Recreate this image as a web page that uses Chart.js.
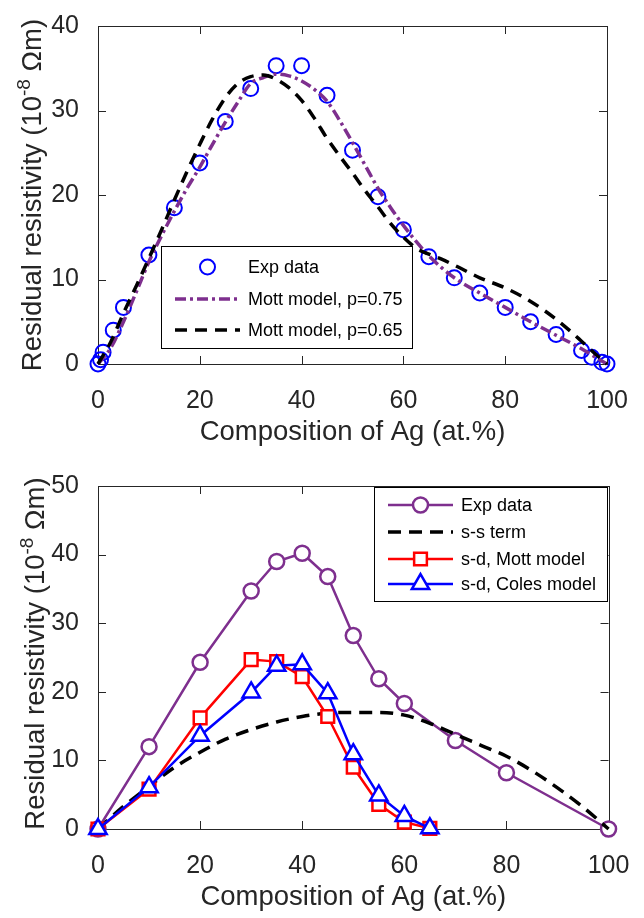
<!DOCTYPE html>
<html>
<head>
<meta charset="utf-8">
<script src="https://cdn.jsdelivr.net/npm/chart.js@4.4.1/dist/chart.umd.min.js"></script>
<style>
  html,body{margin:0;padding:0;background:#fff;}
  #page{position:relative;width:644px;height:918px;overflow:hidden;}
  canvas{position:absolute;left:0;}
</style>
</head>
<body>
<div id="page">
  <canvas id="top" width="644" height="460" style="top:0"></canvas>
  <canvas id="bot" width="644" height="458" style="top:460px"></canvas>
</div>
<script>
// ---- top panel data ----
const topExpX = [0,0.5,1,3,5,10,15,20,25,30,35,40,45,50,55,60,65,70,75,80,85,90,95,97,99,100];
const topExpY = [0,0.5,1.4,4.0,6.7,12.9,18.5,23.8,28.7,32.6,35.3,35.3,31.8,25.3,19.8,15.9,12.7,10.2,8.4,6.7,5.0,3.5,1.6,0.8,0.2,0];
const modelX  = [0,2.5,5,7.5,10,12.5,15,17.5,20,22.5,25,27.5,30,32.5,35,37.5,40,42.5,45,47.5,50,52.5,55,57.5,60,62.5,65,67.5,70,75,80,85,90,95,97.5,100];
const mott075 = [0,1.9,5.0,8.5,12.1,15.2,18.1,20.8,23.3,26.0,28.6,31.0,33.2,33.9,34.3,34.1,33.5,32.5,31.1,28.8,26.2,23.5,20.8,18.5,16.4,14.5,12.8,11.4,10.2,8.4,6.7,5.0,3.4,1.8,0.9,0];
const mott065 = [0,2.6,6.0,9.2,12.5,15.9,19.4,22.8,26.0,29.0,31.5,33.2,34.0,34.2,33.7,32.7,31.2,29.1,26.7,24.6,22.6,20.5,18.6,16.6,15.0,13.7,13.0,12.4,11.7,10.2,9.0,7.4,5.3,2.7,1.3,0];
const topLabels = ['Exp data','Mott model, p=0.75','Mott model, p=0.65'];

// ---- bottom panel data ----
const botExpX = [0,10,20,30,35,40,45,50,55,60,70,80,100];
const botExpY = [0,12.0,24.3,34.7,39.0,40.2,36.8,28.2,21.9,18.3,12.9,8.2,0];
const ssX = [0,5,10,15,20,25,30,35,40,45,50,55,60,65,70,75,80,85,90,95,100];
const ssY = [0,3.3,6.2,9.0,11.2,13.1,14.5,15.6,16.4,16.9,17.0,17.0,16.6,15.4,13.8,12.2,10.6,8.5,6.0,3.2,0];
const sdX = [0,10,20,30,35,40,45,50,55,60,65];
const sdMott  = [0,5.8,16.2,24.7,24.4,22.2,16.4,9.0,3.6,1.0,0.1];
const sdColes = [0,6.1,13.6,19.9,23.8,24.0,19.8,10.9,4.9,1.9,0.1];
const botLabels = ['Exp data','s-s term','s-d, Mott model','s-d, Coles model'];

const yTitleParts = ['Residual resistivity (10','-8',' \u03A9m)'];
const xTitle = 'Composition of Ag (at.%)';

const FONT = '"Liberation Sans", Arial, Helvetica, sans-serif';
const INK = '#262626';
const PURPLE = '#7E2F8E', BLUE = '#0000FF', RED = '#FF0000';

function pts(xs, ys){ return xs.map((x,i)=>({x, y: ys[i]})); }

function marker(ctx, style, x, y, r){
  ctx.beginPath();
  if(style==='circle') ctx.arc(x,y,r,0,Math.PI*2);
  else if(style==='rect'){ const s=r*Math.SQRT1_2; ctx.rect(x-s,y-s,2*s,2*s); }
  else if(style==='triangle'){ const c=Math.cos(Math.PI/6)*r; ctx.moveTo(x,y-r); ctx.lineTo(x+c,y+r/2); ctx.lineTo(x-c,y+r/2); ctx.closePath(); }
}

// box + inward ticks (matlab style), y title, legend
const frame = {
  id:'frame',
  beforeDatasetsDraw(chart, args, o){
    const {ctx, chartArea:a, scales:{x,y}} = chart;
    const t = o.tick || 8;
    ctx.save();
    ctx.strokeStyle = INK; ctx.lineWidth = 1;
    ctx.strokeRect(Math.round(a.left)+0.5, Math.round(a.top)+0.5, Math.round(a.right-a.left), Math.round(a.bottom-a.top));
    ctx.beginPath();
    x.ticks.forEach(tk=>{ const px=Math.round(x.getPixelForValue(tk.value))+0.5;
      ctx.moveTo(px,a.bottom); ctx.lineTo(px,a.bottom-t); ctx.moveTo(px,a.top); ctx.lineTo(px,a.top+t); });
    y.ticks.forEach(tk=>{ const py=Math.round(y.getPixelForValue(tk.value))+0.5;
      ctx.moveTo(a.left,py); ctx.lineTo(a.left+t,py); ctx.moveTo(a.right,py); ctx.lineTo(a.right-t,py); });
    ctx.stroke();
    ctx.restore();
  },
  afterDraw(chart, args, o){
    const {ctx, chartArea:a} = chart;
    // y title with superscript
    ctx.save();
    ctx.fillStyle = INK;
    ctx.translate(o.titleX, (a.top+a.bottom)/2 + (o.titleShift||0));
    ctx.rotate(-Math.PI/2);
    const main = '27.5px '+FONT, sup = '19px '+FONT;
    ctx.font = main; const w0 = ctx.measureText(yTitleParts[0]).width, w2 = ctx.measureText(yTitleParts[2]).width;
    ctx.font = sup; const w1 = ctx.measureText(yTitleParts[1]).width;
    let sx = -(w0+w1+w2)/2;
    ctx.textBaseline = 'alphabetic'; ctx.textAlign = 'left';
    ctx.font = main; ctx.fillText(yTitleParts[0], sx, 10); sx += w0;
    ctx.font = sup;  ctx.fillText(yTitleParts[1], sx, -1); sx += w1;
    ctx.font = main; ctx.fillText(yTitleParts[2], sx, 10);
    ctx.restore();

    // legend
    const L = o.legend;
    ctx.save();
    ctx.fillStyle = '#fff'; ctx.fillRect(L.x, L.y, L.w, L.h);
    ctx.strokeStyle = '#000'; ctx.lineWidth = 1;
    ctx.strokeRect(L.x+0.5, L.y+0.5, L.w, L.h);
    chart.data.datasets.forEach((ds,i)=>{
      const ry = L.rows[i];
      if(ds.showLine !== false){
        ctx.beginPath(); ctx.setLineDash(ds.borderDash||[]);
        ctx.strokeStyle = ds.borderColor; ctx.lineWidth = ds.borderWidth;
        ctx.moveTo(L.l0, ry); ctx.lineTo(L.l1, ry); ctx.stroke(); ctx.setLineDash([]);
      }
      if(ds.pointRadius > 0){
        marker(ctx, ds.pointStyle, (L.l0+L.l1)/2, ry, ds.pointRadius);
        if(ds.pointBackgroundColor && ds.pointBackgroundColor!=='transparent'){ ctx.fillStyle = ds.pointBackgroundColor; ctx.fill(); }
        ctx.strokeStyle = ds.pointBorderColor; ctx.lineWidth = ds.pointBorderWidth; ctx.stroke();
      }
      ctx.fillStyle = '#000'; ctx.font = '18px '+FONT; ctx.textBaseline = 'middle'; ctx.textAlign = 'left';
      ctx.fillText(ds.label, L.tx, ry+1);
    });
    ctx.restore();
  }
};

function axes(yMax, o){
  return {
    x:{ type:'linear', min:0, max:100, grid:{display:false}, border:{display:false},
        afterFit(s){ s.height = o.xh; },
        ticks:{ stepSize:20, autoSkip:false, maxRotation:0, padding:o.tp, color:INK, font:{family:FONT,size:25} },
        title:{ display:true, text:xTitle, color:INK, font:{family:FONT,size:27.5,lineHeight:1.2}, padding:{top:0,bottom:o.ttp} } },
    y:{ min:0, max:yMax, grid:{display:false}, border:{display:false},
        afterFit(s){ s.width = 98; },
        ticks:{ stepSize:10, padding:11, color:INK, font:{family:FONT,size:25} } }
  };
}

Chart.defaults.animation = false;

new Chart(document.getElementById('top'), {
  type:'line',
  data:{ datasets:[
    { label:topLabels[0], data:pts(topExpX, topExpY), showLine:false, pointStyle:'circle', pointRadius:7.5,
      pointBorderColor:BLUE, pointBackgroundColor:'transparent', pointBorderWidth:2, borderColor:BLUE, clip:false, order:3 },
    { label:topLabels[1], data:pts(modelX, mott075), borderColor:PURPLE, borderWidth:3.5, borderDash:[11,4,3,4],
      pointRadius:0, cubicInterpolationMode:'monotone', clip:false, order:2 },
    { label:topLabels[2], data:pts(modelX, mott065), borderColor:'#000', borderWidth:3.5, borderDash:[12,8],
      pointRadius:0, cubicInterpolationMode:'monotone', clip:false, order:1 }
  ]},
  options:{
    responsive:false,
    layout:{ autoPadding:false, padding:{left:0, right:37, top:9, bottom:0} },
    scales: axes(40, {xh:96, tp:14.5, ttp:10.7}),
    plugins:{ legend:{display:false}, tooltip:{enabled:false},
      frame:{ tick:8, titleX:31, legend:{x:161,y:246,w:251,h:102, rows:[267,299,330], l0:175, l1:240, tx:248} } }
  },
  plugins:[frame]
});

new Chart(document.getElementById('bot'), {
  type:'line',
  data:{ datasets:[
    { label:botLabels[0], data:pts(botExpX, botExpY), borderColor:PURPLE, borderWidth:2.5, pointStyle:'circle', pointRadius:7.5,
      pointBorderColor:PURPLE, pointBackgroundColor:'#fff', pointBorderWidth:2.5, tension:0, clip:false, order:4 },
    { label:botLabels[1], data:pts(ssX, ssY), borderColor:'#000', borderWidth:3.5, borderDash:[13,8],
      pointRadius:0, cubicInterpolationMode:'monotone', clip:false, order:3 },
    { label:botLabels[2], data:pts(sdX, sdMott), borderColor:RED, borderWidth:2.5, pointStyle:'rect', pointRadius:9,
      pointBorderColor:RED, pointBackgroundColor:'#fff', pointBorderWidth:2.5, tension:0, clip:false, order:2 },
    { label:botLabels[3], data:pts(sdX, sdColes), borderColor:BLUE, borderWidth:2.5, pointStyle:'triangle', pointRadius:10,
      pointBorderColor:BLUE, pointBackgroundColor:'#fff', pointBorderWidth:2.5, tension:0, clip:false, order:1 }
  ]},
  options:{
    responsive:false,
    layout:{ autoPadding:false, padding:{left:0, right:33, top:17, bottom:0} },
    scales: axes(50, {xh:89, tp:14.6, ttp:3.7}),
    plugins:{ legend:{display:false}, tooltip:{enabled:false},
      frame:{ tick:8, titleX:34, titleShift:-4, legend:{x:374,y:27,w:233,h:114, rows:[45,72,99,124], l0:388, l1:453, tx:461} } }
  },
  plugins:[frame]
});
</script>
</body>
</html>
